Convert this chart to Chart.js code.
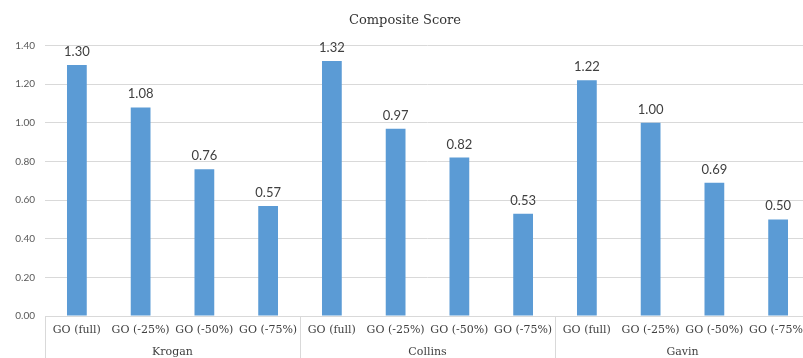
<!DOCTYPE html>
<html>
<head>
<meta charset="utf-8">
<script src="https://cdn.jsdelivr.net/npm/chart.js@4.4.1/dist/chart.umd.min.js"></script>
<style>
  html, body { margin: 0; padding: 0; background: #fff; overflow: hidden; }
  #wrap { width: 830px; height: 358px; }
</style>
</head>
<body>
<div id="wrap"><canvas id="c"></canvas></div>
<script>
const groups = ['Krogan', 'Collins', 'Gavin'];
const variants = ['GO (full)', 'GO (-25%)', 'GO (-50%)', 'GO (-75%)'];
const kroganScores = [1.30, 1.08, 0.76, 0.57];
const collinsScores = [1.32, 0.97, 0.82, 0.53];
const gavinScores = [1.22, 1.00, 0.69, 0.50];
const yTicks = [0, 0.2, 0.4, 0.6, 0.8, 1.0, 1.2, 1.4];

const categories = groups.flatMap(() => variants);
const scores = [...kroganScores, ...collinsScores, ...gavinScores];

const GRID = '#d9d9d9';
const SERIF = '"DejaVu Serif", "Liberation Serif", serif';
const SANS = 'Lato, "Liberation Sans", sans-serif';

// value labels above each bar
const valueLabels = {
  id: 'valueLabels',
  afterDatasetsDraw(chart) {
    const ctx = chart.ctx;
    const meta = chart.getDatasetMeta(0);
    ctx.save();
    ctx.font = '13px ' + SANS;
    ctx.fillStyle = '#404040';
    ctx.textAlign = 'center';
    ctx.textBaseline = 'alphabetic';
    meta.data.forEach((bar, i) => {
      ctx.fillText(scores[i].toFixed(2), bar.x, bar.y - 9);
    });
    ctx.restore();
  }
};

new Chart(document.getElementById('c'), {
  type: 'bar',
  data: {
    labels: categories,
    datasets: [{
      data: scores,
      backgroundColor: '#5b9bd5',
      borderWidth: 0,
      barPercentage: 0.31,
      categoryPercentage: 1.0
    }]
  },
  options: {
    responsive: true,
    maintainAspectRatio: false,
    animation: false,
    layout: { padding: { left: 0, right: 20, top: 0, bottom: 0 } },
    plugins: {
      legend: { display: false },
      tooltip: { enabled: false },
      title: {
        display: true,
        text: 'Composite Score',
        color: '#333333',
        font: { family: SERIF, size: 13, weight: 'normal' },
        padding: { top: 13, bottom: 17 }
      }
    },
    scales: {
      y: {
        min: 0,
        max: 1.4,
        afterBuildTicks(scale) { scale.ticks = yTicks.map(v => ({ value: v })); },
        afterFit(scale) { scale.width = 45; },
        border: { display: false },
        grid: { color: GRID, drawTicks: false, lineWidth: 1 },
        ticks: {
          padding: 10,
          color: '#595959',
          font: { family: SANS, size: 10 },
          callback: v => Number(v).toFixed(2)
        }
      },
      x: {
        position: 'bottom',
        offset: true,
        afterFit(scale) { scale.height = 24; },
        border: { display: true, color: GRID },
        grid: {
          offset: true,
          drawOnChartArea: false,
          drawTicks: true,
          tickLength: 42,
          color: ctx => (ctx.index % variants.length === 0 ? GRID : 'rgba(0,0,0,0)')
        },
        ticks: {
          padding: -34,
          autoSkip: false,
          maxRotation: 0,
          color: '#404040',
          font: { family: SERIF, size: 11 }
        }
      },
      xg: {
        type: 'category',
        position: 'bottom',
        labels: groups,
        offset: true,
        afterFit(scale) { scale.height = 18; },
        border: { display: false },
        grid: { display: false, drawTicks: false },
        ticks: {
          padding: 6,
          color: '#404040',
          font: { family: SERIF, size: 11 }
        }
      }
    }
  },
  plugins: [valueLabels]
});
</script>
</body>
</html>
